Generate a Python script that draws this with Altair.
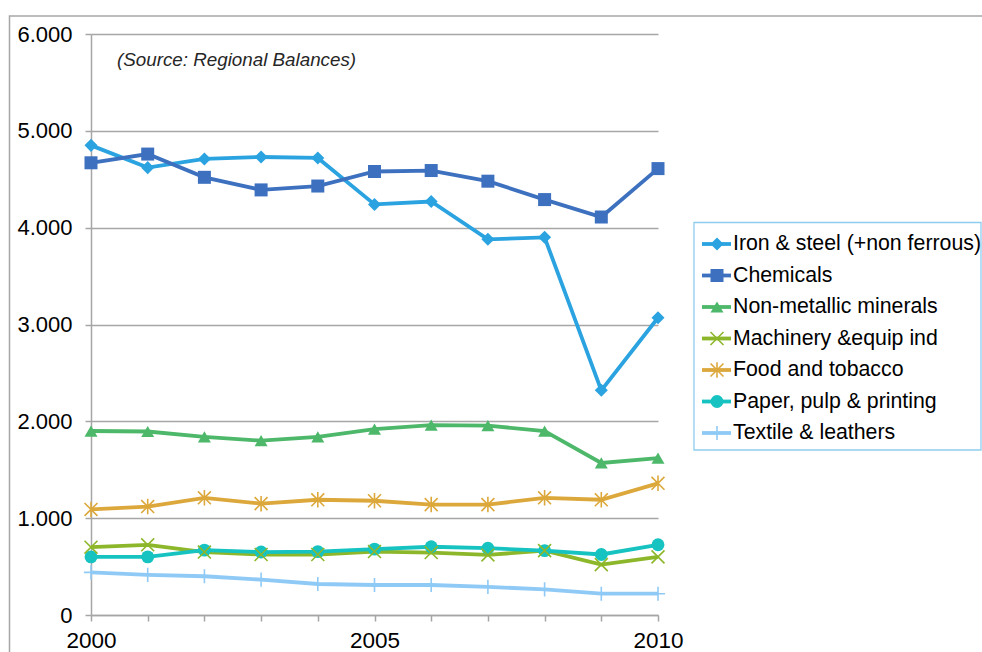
import altair as alt
import pandas as pd

years = list(range(2000, 2011))
series = [
    "Iron & steel (+non ferrous)",
    "Chemicals",
    "Non-metallic minerals",
    "Machinery &equip ind",
    "Food and tobacco",
    "Paper, pulp & printing",
    "Textile & leathers",
]
iron = [4850, 4620, 4710, 4730, 4720, 4240, 4270, 3880, 3900, 2320, 3070]
chem = [4670, 4760, 4520, 4390, 4430, 4580, 4590, 4480, 4290, 4110, 4610]
nonmet = [1900, 1895, 1840, 1800, 1840, 1920, 1960, 1955, 1900, 1570, 1620]
mach = [700, 725, 650, 625, 625, 655, 645, 620, 665, 520, 600]
food = [1090, 1120, 1210, 1150, 1190, 1180, 1140, 1140, 1210, 1190, 1360]
paper = [600, 600, 670, 650, 655, 680, 705, 690, 665, 625, 725]
textile = [440, 415, 400, 365, 320, 310, 310, 290, 265, 220, 220]
values = [iron, chem, nonmet, mach, food, paper, textile]

colors = ["#2aa3e0", "#3d71bf", "#4db86a", "#8db72a", "#dca83b", "#16c3c1", "#8fcaf6"]
shapes = ["diamond", "square", "triangle-up",
          "M-1,-1L1,1M-1,1L1,-1",
          "M-1,-1L1,1M-1,1L1,-1M0,-1.2L0,1.2",
          "circle",
          "M-1.1,0L1.1,0M0,-1.1L0,1.1"]
sizes = [170, 165, 160, 130, 130, 150, 110]
filled_series = [series[i] for i in (0, 1, 2, 5)]
open_series = [series[i] for i in (3, 4, 6)]
source_note = "(Source: Regional Balances)"

rows = []
for k, name in enumerate(series):
    for y, v in zip(years, values[k]):
        rows.append({"series": name, "order": k, "year": y, "value": v})
df = pd.DataFrame(rows)
leg_df = pd.DataFrame({"series": series, "order": list(range(len(series)))})

FONT = "Liberation Sans"
GRID = "#a6a6a6"

color_enc = alt.Color("series:N", scale=alt.Scale(domain=series, range=colors), legend=None)
shape_enc = alt.Shape("series:N", scale=alt.Scale(domain=series, range=shapes), legend=None)
size_enc = alt.Size("series:N", scale=alt.Scale(domain=series, range=sizes), legend=None)

x_enc = alt.X("year:Q",
              scale=alt.Scale(domain=[2000, 2010], nice=False, zero=False),
              axis=alt.Axis(values=years, grid=False, title=None,
                            labelExpr="datum.value % 5 == 0 ? format(datum.value, 'd') : ''",
                            labelFlush=False, labelOverlap=False,
                            labelFont=FONT, labelFontSize=22.5, labelColor="#000000",
                            labelPadding=8, tickSize=6, tickColor=GRID, domainColor=GRID,
                            domainWidth=1.5, tickWidth=1.5))
y_enc = alt.Y("value:Q",
              scale=alt.Scale(domain=[0, 6000], nice=False),
              axis=alt.Axis(values=[0, 1000, 2000, 3000, 4000, 5000, 6000], title=None,
                            labelExpr="replace(format(datum.value, ','), ',', '.')",
                            labelFlush=False, labelFont=FONT, labelFontSize=22,
                            labelColor="#000000", labelPadding=13, tickSize=6,
                            tickColor=GRID, domainColor=GRID, gridColor=GRID,
                            gridWidth=1.5, domainWidth=1.5, tickWidth=1.5))

base = alt.Chart(df)

frame = alt.Chart(pd.DataFrame({"a": [0]})).mark_rect(
    fillOpacity=0, stroke=GRID, strokeWidth=1.5
).encode(x=alt.value(-81.5), x2=alt.value(1200), y=alt.value(-18), y2=alt.value(900))

lines = base.mark_line(strokeWidth=3.8).encode(
    x=x_enc, y=y_enc, color=color_enc, detail="series:N", order="year:Q")

pts_filled = base.transform_filter(
    alt.FieldOneOfPredicate(field="series", oneOf=filled_series)
).mark_point(filled=True, opacity=1).encode(
    x="year:Q", y="value:Q", color=color_enc, shape=shape_enc, size=size_enc)

pts_open = base.transform_filter(
    alt.FieldOneOfPredicate(field="series", oneOf=open_series)
).mark_point(filled=False, opacity=1, strokeWidth=1.6).encode(
    x="year:Q", y="value:Q", color=color_enc, shape=shape_enc, size=size_enc)

note = alt.Chart(pd.DataFrame({"t": [source_note]})).mark_text(
    align="left", baseline="middle", font=FONT, fontSize=18.8, fontStyle="italic",
    color="#262626"
).encode(x=alt.value(26), y=alt.value(26), text="t:N")

main = alt.layer(frame, lines, pts_filled, pts_open, note)

# legend built from the series list
leg_y = alt.Y("series:N", sort=series,
              scale=alt.Scale(type="point", range=[210, 399], padding=0), axis=None)
leg_base = alt.Chart(leg_df)

leg_box = alt.Chart(pd.DataFrame({"a": [0]})).mark_rect(
    fillOpacity=0, stroke="#8fcdef", strokeWidth=1.3
).encode(x=alt.value(603), x2=alt.value(890), y=alt.value(188.5), y2=alt.value(416))

leg_lines = leg_base.mark_rule(strokeWidth=3.8).encode(
    x=alt.value(611), x2=alt.value(640), y=leg_y, color=color_enc)

leg_filled = leg_base.transform_filter(
    alt.FieldOneOfPredicate(field="series", oneOf=filled_series)
).mark_point(filled=True, opacity=1).encode(
    x=alt.value(626), y=leg_y, color=color_enc, shape=shape_enc, size=size_enc)

leg_open = leg_base.transform_filter(
    alt.FieldOneOfPredicate(field="series", oneOf=open_series)
).mark_point(filled=False, opacity=1, strokeWidth=1.6).encode(
    x=alt.value(626), y=leg_y, color=color_enc, shape=shape_enc, size=size_enc)

leg_text = leg_base.mark_text(
    align="left", baseline="middle", font=FONT, fontSize=21.3, color="#000000"
).encode(x=alt.value(642), y=leg_y, text="series:N")

legend = alt.layer(leg_box, leg_lines, leg_filled, leg_open, leg_text)

chart = alt.layer(main, legend).resolve_scale(y="independent").properties(
    width=567, height=581,
    autosize=alt.AutoSizeParams(type="none"),
    padding={"left": 91, "top": 34, "right": 324, "bottom": 37},
    background="#ffffff",
).configure_view(strokeWidth=0)

chart.save("out.html", embed_options={"renderer": "svg", "actions": False})
